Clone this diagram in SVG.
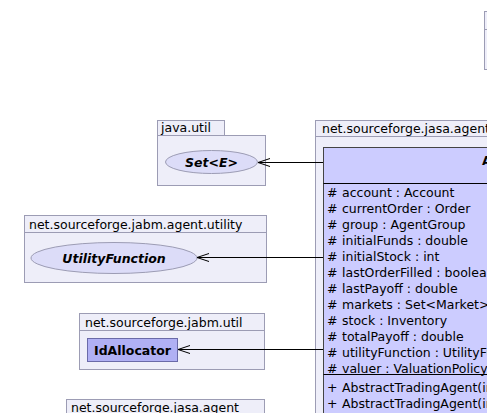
<svg xmlns="http://www.w3.org/2000/svg" width="487" height="413" viewBox="0 0 487 413">
<style>
text{font-family:"DejaVu Sans","Liberation Sans",sans-serif;font-size:12.5px;fill:#000}
.pkg{fill:#eeeef9;stroke:#9c9cb4;stroke-width:1}
.ell{fill:#dcdcf8;stroke:#9c9cb4;stroke-width:1}
.b{font-weight:bold}
.bi{font-weight:bold;font-style:italic}
.conn{stroke:#000;stroke-width:1;fill:none}
</style>
<defs>
<marker id="open" markerWidth="14" markerHeight="10" refX="13" refY="5" orient="auto" markerUnits="userSpaceOnUse">
<path d="M1,1 L13,5 L1,9" fill="none" stroke="#000" stroke-width="1"/>
</marker>
</defs>
<rect x="0" y="0" width="487" height="413" fill="#fff"/>

<g id="pkg-topright">
<rect class="pkg" x="484.5" y="11.5" width="20" height="18"/>
<rect class="pkg" x="484.5" y="29.5" width="20" height="40"/>
</g>

<g id="pkg-javautil">
<rect class="pkg" x="157.5" y="120.5" width="67" height="15"/>
<rect class="pkg" x="157.5" y="135.5" width="108" height="50"/>
<text x="161" y="132">java.util</text>
</g>
<g id="node-set">
<ellipse class="ell" cx="211.5" cy="162" rx="46" ry="11.5"/>
<text class="bi" x="211.5" y="166.5" text-anchor="middle">Set&lt;E&gt;</text>
</g>

<g id="pkg-utility">
<rect class="pkg" x="24.5" y="215.5" width="242" height="17"/>
<rect class="pkg" x="24.5" y="232.5" width="242" height="50"/>
<text x="29" y="229">net.sourceforge.jabm.agent.utility</text>
</g>
<g id="node-utilityfunction">
<ellipse class="ell" cx="114" cy="258" rx="83" ry="15.5"/>
<text class="bi" x="114" y="262.5" text-anchor="middle">UtilityFunction</text>
</g>

<g id="pkg-jabmutil">
<rect class="pkg" x="79.5" y="313.5" width="185" height="17"/>
<rect class="pkg" x="79.5" y="330.5" width="185" height="39"/>
<text x="85" y="327">net.sourceforge.jabm.util</text>
</g>
<g id="node-idallocator">
<rect x="87.5" y="338.5" width="90" height="23" fill="#b0b0f4" stroke="#6a6aa8"/>
<text class="b" x="132.5" y="354.5" text-anchor="middle">IdAllocator</text>
</g>

<g id="pkg-jasaagent-bottom">
<rect class="pkg" x="66.5" y="399.5" width="198" height="20"/>
<text x="71" y="412">net.sourceforge.jasa.agent</text>
</g>

<g id="pkg-jasaagent">
<rect class="pkg" x="315.5" y="120.5" width="200" height="16"/>
<rect class="pkg" x="315.5" y="136.5" width="200" height="300"/>
<text x="322" y="132.5">net.sourceforge.jasa.agent</text>
</g>
<g id="node-abstracttradingagent">
<rect x="323.5" y="147.5" width="200" height="280" fill="#ccccff" stroke="#444"/>
<line x1="323.5" y1="183.5" x2="487" y2="183.5" stroke="#000"/>
<line x1="323.5" y1="374.5" x2="487" y2="374.5" stroke="#000"/>
<text class="b" x="482" y="165">AbstractTradingAgent</text>
<g>
<text x="327" y="196.5">#</text><text x="342" y="196.5">account : Account</text>
<text x="327" y="212.5">#</text><text x="342" y="212.5">currentOrder : Order</text>
<text x="327" y="228.5">#</text><text x="342" y="228.5">group : AgentGroup</text>
<text x="327" y="244.5">#</text><text x="342" y="244.5">initialFunds : double</text>
<text x="327" y="260.5">#</text><text x="342" y="260.5">initialStock : int</text>
<text x="327" y="276.5">#</text><text x="342" y="276.5">lastOrderFilled : boolean</text>
<text x="327" y="292.5">#</text><text x="342" y="292.5">lastPayoff : double</text>
<text x="327" y="308.5">#</text><text x="342" y="308.5">markets : Set&lt;Market&gt;</text>
<text x="327" y="324.5">#</text><text x="342" y="324.5">stock : Inventory</text>
<text x="327" y="340.5">#</text><text x="342" y="340.5">totalPayoff : double</text>
<text x="327" y="356.5">#</text><text x="342" y="356.5">utilityFunction : UtilityFunction</text>
<text x="327" y="372.5">#</text><text x="342" y="372.5">valuer : ValuationPolicy</text>
<text x="327" y="391.5">+</text><text x="342" y="391.5">AbstractTradingAgent(int)</text>
<text x="327" y="407.5">+</text><text x="342" y="407.5">AbstractTradingAgent(int)</text>
<text x="327" y="423.5">+</text><text x="342" y="423.5">AbstractTradingAgent(int)</text>
</g>
</g>

<g id="connectors">
<line class="conn" x1="323" y1="162.5" x2="258" y2="162.5" marker-end="url(#open)"/>
<line class="conn" x1="323" y1="257.5" x2="197" y2="257.5" marker-end="url(#open)"/>
<line class="conn" x1="323" y1="349.5" x2="178" y2="349.5" marker-end="url(#open)"/>
</g>
</svg>
